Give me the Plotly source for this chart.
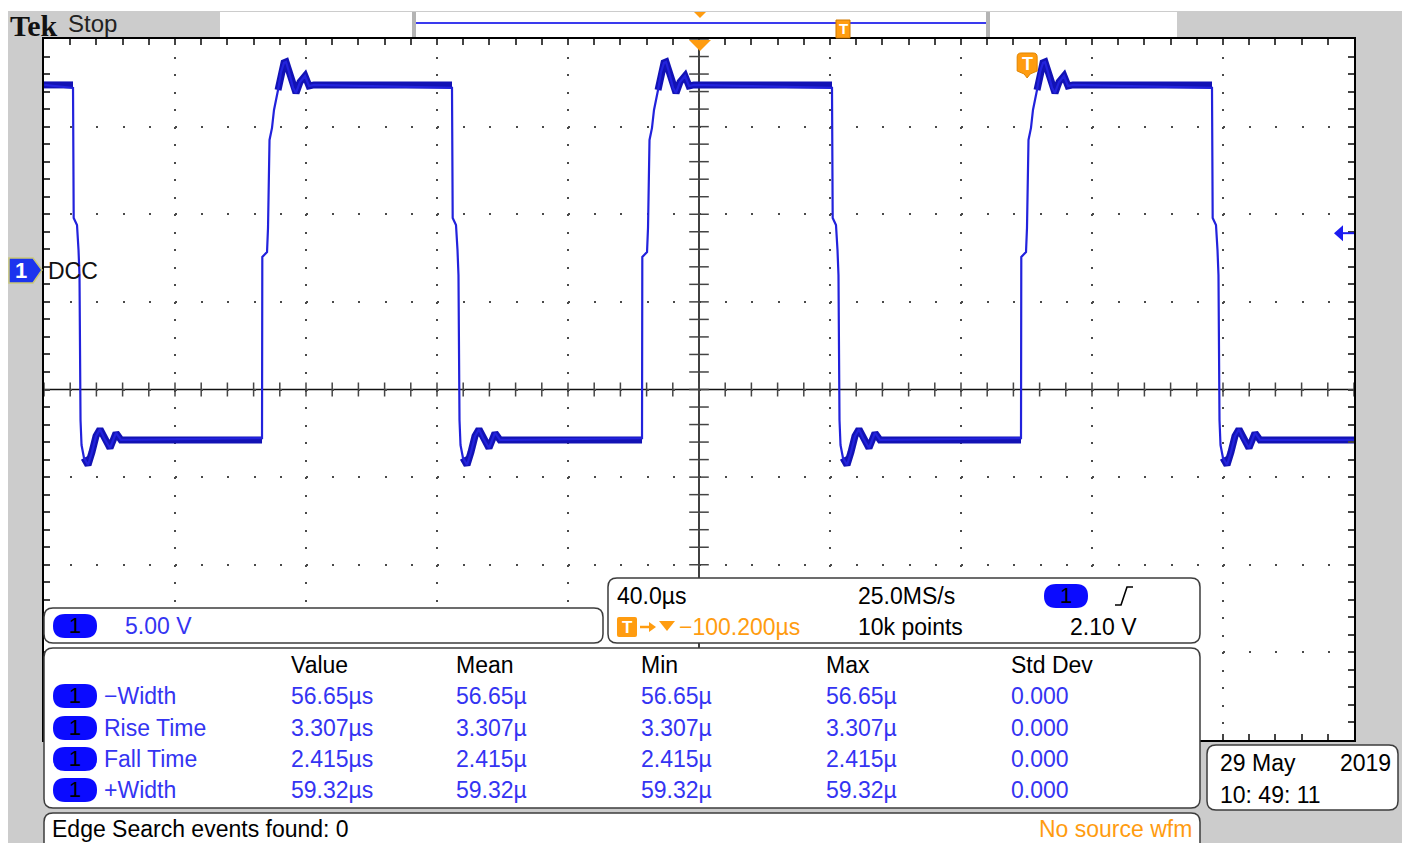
import numpy as np
import plotly.graph_objects as go

W, H = 1402, 843
PL, PR, PT, PB = 44, 1354, 39, 740          # graticule box in screen pixels

TIME_PER_DIV_US = 40.0
H_DIVS = 10
VOLT_PER_DIV = 5.0
V_DIVS = 8
CH1_POSITION_DIV = 1.364            # ground marker above the centre line
TRIGGER_TIME_US = 100.2
TRIGGER_LEVEL_V = 2.10
HIGH_LEVEL_V = 10.56
LOW_LEVEL_V = -9.70

FALL_EDGE_US = [-191.14, -75.42, 40.61, 156.64]
RISE_EDGE_US = [-133.43, -17.40, 98.32]

FALL_DT_US = [0, 0.21, 1.22, 1.68, 1.98, 2.29, 2.60, 3.36, 4.58, 5.80, 7.02, 8.24, 9.47, 11.30, 13.13, 14.66]
FALL_V = [10.39, 2.97, 2.57, 1.14, -0.29, -8.56, -9.99, -10.73, -11.13, -10.39, -9.48, -9.08, -9.59, -10.16, -9.30, -9.70]
RISE_DT_US = [0, 0.09, 1.53, 1.83, 2.29, 3.05, 3.66, 4.89, 5.80, 6.72, 7.33, 8.24, 9.47, 10.38, 11.60, 13.13, 14.35, 15.88]
RISE_V = [-9.59, 0.74, 1.03, 2.40, 7.42, 8.11, 9.13, 10.27, 11.30, 11.82, 11.87, 11.30, 10.39, 10.10, 10.73, 11.07, 10.50, 10.56]

MEAS_HEADERS = ["Value", "Mean", "Min", "Max", "Std Dev"]
MEAS_LABELS = ["\u2212Width", "Rise Time", "Fall Time", "+Width"]
MEAS_VALUE = ["56.65\u00b5s", "3.307\u00b5s", "2.415\u00b5s", "59.32\u00b5s"]
MEAS_MEAN = ["56.65\u00b5", "3.307\u00b5", "2.415\u00b5", "59.32\u00b5"]
MEAS_MIN = ["56.65\u00b5", "3.307\u00b5", "2.415\u00b5", "59.32\u00b5"]
MEAS_MAX = ["56.65\u00b5", "3.307\u00b5", "2.415\u00b5", "59.32\u00b5"]
MEAS_STD = ["0.000", "0.000", "0.000", "0.000"]

CH1_SCALE_TEXT = "5.00 V"
TIMEBASE_TEXT = "40.0\u00b5s"
SAMPLE_RATE_TEXT = "25.0MS/s"
RECORD_TEXT = "10k points"
TRIG_DELAY_TEXT = "\u2212100.200\u00b5s"
TRIG_LEVEL_TEXT = "2.10 V"
DATE_TEXT = "29 May"
YEAR_TEXT = "2019"
TIME_TEXT = "10: 49: 11"
SEARCH_TEXT = "Edge Search events found: 0"
SOURCE_TEXT = "No source wfm"

# ---------------- build the trace from the read values ----------------
events = sorted([(t, "f") for t in FALL_EDGE_US] + [(t, "r") for t in RISE_EDGE_US])
x_min = -TIME_PER_DIV_US * H_DIVS / 2
x_max = TIME_PER_DIV_US * H_DIVS / 2
main_t, main_v = [x_min], [HIGH_LEVEL_V]
band_t, band_v = [x_min], [HIGH_LEVEL_V]
level = HIGH_LEVEL_V
for t0, kind in events:
    if kind == "f":
        dts, vs, bstart, new_level = FALL_DT_US, FALL_V, 7, LOW_LEVEL_V
    else:
        dts, vs, bstart, new_level = RISE_DT_US, RISE_V, 7, HIGH_LEVEL_V
    band_t += [t0, None]
    band_v += [level, None]
    for i, (dt, v) in enumerate(zip(dts, vs)):
        main_t.append(t0 + dt)
        main_v.append(v)
        if i >= bstart:
            band_t.append(t0 + dt)
            band_v.append(v)
    level = new_level
main_t.append(x_max); main_v.append(level)
band_t.append(x_max); band_v.append(level)

center_v = -CH1_POSITION_DIV * VOLT_PER_DIV
y_min = center_v - VOLT_PER_DIV * V_DIVS / 2
y_max = center_v + VOLT_PER_DIV * V_DIVS / 2

# ---------------- helpers (screen pixel -> paper) ----------------
def X(x):
    return (x - PL) / (PR - PL)

def Y(y):
    return (PB - y) / (PB - PT)

US_PER_PX = (x_max - x_min) / (PR - PL)
V_PER_PX = (y_max - y_min) / (PB - PT)

def path(pts, close=True):
    return "M " + " L ".join(f"{X(a):.5f},{Y(b):.5f}" for a, b in pts) + (" Z" if close else "")

def rrect(x0, y0, x1, y1, r):
    p = lambda a, b: f"{X(a):.5f},{Y(b):.5f}"
    return (f"M {p(x0 + r, y0)} L {p(x1 - r, y0)} Q {p(x1, y0)} {p(x1, y0 + r)} "
            f"L {p(x1, y1 - r)} Q {p(x1, y1)} {p(x1 - r, y1)} L {p(x0 + r, y1)} "
            f"Q {p(x0, y1)} {p(x0, y1 - r)} L {p(x0, y0 + r)} Q {p(x0, y0)} {p(x0 + r, y0)} Z")

FONT = "Liberation Sans, Arial, sans-serif"
BLUE_TXT = "#3434f2"
PILL_BLUE = "#0b0bff"
ORANGE = "#ff9c10"
BOXLINE = "#3c3c3c"

shapes = []
annotations = []

def txt(x, y, s, color="black", size=23, anchor="left", family=FONT):
    annotations.append(dict(x=X(x), y=Y(y), xref="paper", yref="paper", text=s,
                            showarrow=False, xanchor=anchor, yanchor="middle",
                            font=dict(family=family, size=size, color=color)))

def shape_path(p, fill, line="rgba(0,0,0,0)", width=0, layer="above"):
    shapes.append(dict(type="path", path=p, xref="paper", yref="paper",
                       fillcolor=fill, line=dict(color=line, width=width), layer=layer))

# backgrounds
shape_path(path([(8, 11), (W, 11), (W, H + 5), (8, H + 5)]), "#cccccc", layer="below")
shape_path(path([(PL, PT), (PR, PT), (PR, PB), (PL, PB)]), "white", layer="below")

# header
shape_path(path([(220, 12), (1177, 12), (1177, 37), (220, 37)]), "white")
shape_path(path([(412, 12), (416, 12), (416, 37), (412, 37)]), "#b4b4b4")
shape_path(path([(986, 12), (990, 12), (990, 37), (986, 37)]), "#b4b4b4")
shapes.append(dict(type="line", xref="paper", yref="paper", x0=X(416), x1=X(986), y0=Y(23), y1=Y(23),
                   line=dict(color="#3a3aee", width=2), layer="above"))
shape_path(path([(694, 12), (706, 12), (700, 18)]), ORANGE)
shape_path(path([(836, 20), (850, 20), (850, 38), (836, 38)]), ORANGE, line="#d07800", width=1)
txt(843, 29, "<b>T</b>", color="white", size=15)
annotations[-1]["xanchor"] = "center"
txt(8, 25, "<b>Tek</b>", color="#111111", size=30, family="Liberation Serif, Times New Roman, serif")
txt(66, 24, "Stop", color="#222222", size=24)

# expansion point triangle and trigger marker
shape_path(path([(689, 40), (711, 40), (700, 51)]), ORANGE)
tx = X(PL + (TRIGGER_TIME_US - x_min) / US_PER_PX)
def tpt(dx, y):
    return f"{tx + dx / (PR - PL):.5f},{Y(y):.5f}"
shapes.append(dict(type="path", xref="paper", yref="paper",
                   path=(f"M {tpt(-10, 57)} Q {tpt(-10, 53)} {tpt(-6, 53)} L {tpt(6, 53)} Q {tpt(10, 53)} {tpt(10, 57)} "
                         f"L {tpt(10, 71)} L {tpt(3, 74)} L {tpt(0, 78)} L {tpt(-3, 74)} L {tpt(-10, 71)} Z"),
                   fillcolor=ORANGE, line=dict(color="#e08400", width=1), layer="above"))
annotations.append(dict(x=tx, y=Y(64), xref="paper", yref="paper", text="<b>T</b>", showarrow=False,
                        xanchor="center", yanchor="middle", font=dict(family=FONT, size=18, color="white")))

# channel 1 ground marker
gy = PB - (0 - y_min) / V_PER_PX
shape_path(path([(9, gy - 12), (33, gy - 12), (42, gy), (33, gy + 13), (9, gy + 13)]), "#1c34ee",
           line="#c9c77a", width=1.5)
txt(21, gy + 1, "<b>1</b>", color="white", size=22)
annotations[-1]["xanchor"] = "center"
txt(46, gy + 1, "DCC", color="#111111", size=23)

# trigger level arrow (right side)
ly = PB - (TRIGGER_LEVEL_V - y_min) / V_PER_PX
shape_path(path([(1334, ly), (1343, ly - 8), (1343, ly + 8)]), "#1c1cf0")
shapes.append(dict(type="line", xref="paper", yref="paper", x0=X(1342), x1=X(PR), y0=Y(ly), y1=Y(ly),
                   line=dict(color="#1c1cf0", width=2), layer="above"))

# centre cross hair
shapes.append(dict(type="line", xref="x", yref="y", x0=0, x1=0, y0=y_min, y1=y_max,
                   line=dict(color="#111111", width=1.6), layer="below"))
shapes.append(dict(type="line", xref="x", yref="y", x0=x_min, x1=x_max, y0=center_v, y1=center_v,
                   line=dict(color="#111111", width=1.6), layer="below"))

# readout boxes
def pill(cx, cy):
    shape_path(rrect(cx - 22, cy - 12, cx + 22, cy + 12, 12), PILL_BLUE)
    txt(cx, cy - 1, "1", color="black", size=22)
    annotations[-1]["xanchor"] = "center"

shape_path(rrect(44, 608, 603, 643, 9), "white", line=BOXLINE, width=1.5)
pill(75, 626)
txt(123, 626, CH1_SCALE_TEXT, color=BLUE_TXT)

shape_path(rrect(608, 578, 1200, 643, 9), "white", line=BOXLINE, width=1.5)
txt(615, 596, TIMEBASE_TEXT)
txt(856, 596, SAMPLE_RATE_TEXT)
pill(1066, 596)
shapes.append(dict(type="path", xref="paper", yref="paper",
                   path=path([(1115, 605), (1121, 605), (1127, 587), (1133, 587)], close=False),
                   line=dict(color="black", width=1.6), layer="above"))
shape_path(rrect(617, 617, 637, 637, 2), ORANGE)
txt(627, 627, "<b>T</b>", color="white", size=17)
annotations[-1]["xanchor"] = "center"
# arrow and expansion triangle
shapes.append(dict(type="line", xref="paper", yref="paper", x0=X(640), x1=X(651), y0=Y(627), y1=Y(627),
                   line=dict(color=ORANGE, width=2.5), layer="above"))
shape_path(path([(649, 622), (656, 627), (649, 632)]), ORANGE)
shape_path(path([(659, 621), (675, 621), (667, 631)]), ORANGE)
txt(677, 627, TRIG_DELAY_TEXT, color=ORANGE)
txt(856, 627, RECORD_TEXT)
txt(1068, 627, TRIG_LEVEL_TEXT)

shape_path(rrect(44, 648, 1200, 808, 9), "white", line=BOXLINE, width=1.5)
col_x = [289, 454, 639, 824, 1009]
for cx, hdr in zip(col_x, MEAS_HEADERS):
    txt(cx, 665, hdr)
row_y = [696, 728, 759, 790]
for i, ry in enumerate(row_y):
    pill(75, ry)
    txt(102, ry, MEAS_LABELS[i], color=BLUE_TXT)
    for cx, arr in zip(col_x, [MEAS_VALUE, MEAS_MEAN, MEAS_MIN, MEAS_MAX, MEAS_STD]):
        txt(cx, ry, arr[i], color=BLUE_TXT)

shape_path(rrect(1207, 745, 1398, 810, 9), "white", line=BOXLINE, width=1.5)
txt(1218, 763, DATE_TEXT)
txt(1393, 763, YEAR_TEXT, anchor="right")
txt(1218, 795, TIME_TEXT)

shape_path(rrect(44, 813, 1200, 856, 9), "white", line=BOXLINE, width=1.5)
txt(50, 829, SEARCH_TEXT)
txt(1194, 829, SOURCE_TEXT, color=ORANGE, anchor="right")

# ---------------- figure ----------------
fig = go.Figure()

# centre-line tick marks
fig.add_trace(go.Scatter(x=np.arange(x_min, x_max + 0.01, TIME_PER_DIV_US / 5),
                         y=[center_v] * (H_DIVS * 5 + 1), mode="markers", hoverinfo="skip",
                         marker=dict(symbol="line-ns", size=10, line=dict(color="#444444", width=1.5))))
fig.add_trace(go.Scatter(x=[0] * (V_DIVS * 5 + 1),
                         y=np.linspace(y_min, y_max, V_DIVS * 5 + 1), mode="markers", hoverinfo="skip",
                         marker=dict(symbol="line-ew", size=14, line=dict(color="#444444", width=1.5))))

fig.add_trace(go.Scatter(x=band_t, y=band_v, mode="lines", hoverinfo="skip",
                         line=dict(color="#1212b4", width=7), connectgaps=False))
fig.add_trace(go.Scatter(x=main_t, y=main_v, mode="lines", hoverinfo="skip",
                         line=dict(color="#2222dc", width=2.2)))

minor_px_x = (PR - PL) / (H_DIVS * 5)
minor_px_y = (PB - PT) / (V_DIVS * 5)
fig.update_layout(
    width=W, height=H,
    margin=dict(l=PL, r=W - PR, t=PT, b=H - PB, pad=0),
    paper_bgcolor="white", plot_bgcolor="rgba(0,0,0,0)",
    showlegend=False,
    shapes=shapes, annotations=annotations,
    xaxis=dict(range=[x_min, x_max], tick0=0, dtick=TIME_PER_DIV_US, showgrid=True,
               gridcolor="#4a4a4a", gridwidth=2, griddash=f"2px,{minor_px_y - 2:.3f}px",
               showline=True, linecolor="black", linewidth=2, mirror="allticks",
               ticks="inside", ticklen=6, tickwidth=1.5, tickcolor="#444444",
               minor=dict(dtick=TIME_PER_DIV_US / 5, ticks="inside", ticklen=6, tickwidth=1.5,
                          tickcolor="#444444", showgrid=False),
               showticklabels=False, zeroline=False, fixedrange=True),
    yaxis=dict(range=[y_min, y_max], tick0=center_v, dtick=VOLT_PER_DIV, showgrid=True,
               gridcolor="#4a4a4a", gridwidth=2, griddash=f"2px,{minor_px_x - 2:.3f}px",
               showline=True, linecolor="black", linewidth=2, mirror="allticks",
               ticks="inside", ticklen=6, tickwidth=1.5, tickcolor="#444444",
               minor=dict(dtick=VOLT_PER_DIV / 5, tick0=center_v, ticks="inside", ticklen=6, tickwidth=1.5,
                          tickcolor="#444444", showgrid=False),
               showticklabels=False, zeroline=False, fixedrange=True),
)

fig.write_html("out.html", config={"displayModeBar": False},
               post_script="document.body.style.margin='0';document.body.style.overflow='hidden';")
